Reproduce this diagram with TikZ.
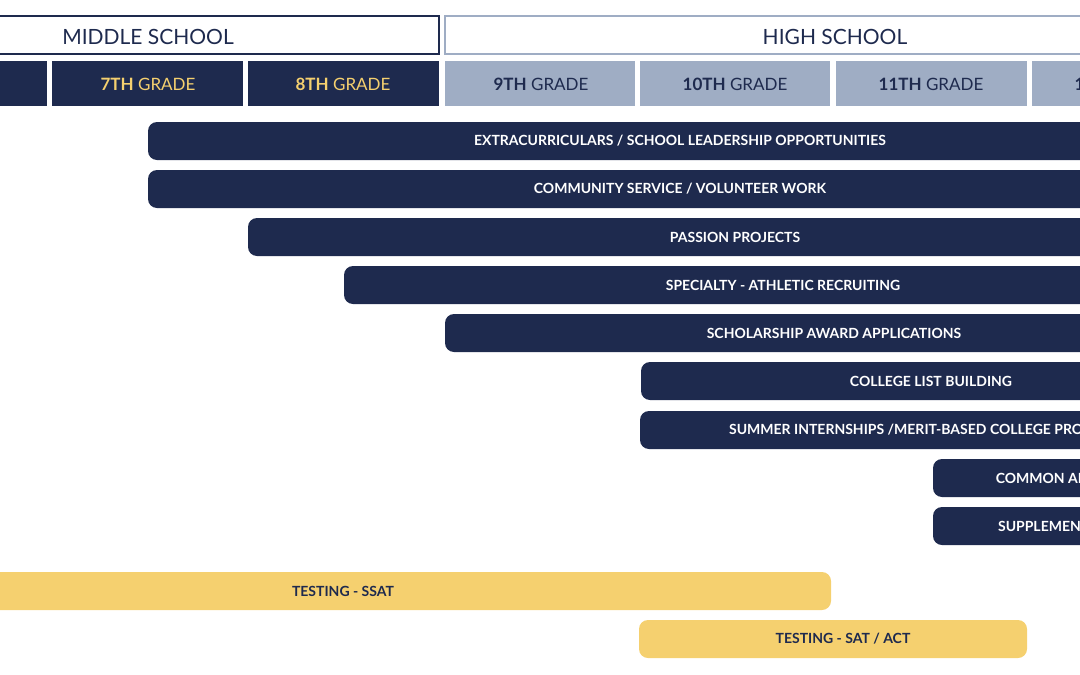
\documentclass[tikz,border=0pt]{standalone}
\usepackage{fontspec}
\setmainfont{Lato}
\definecolor{navy}{HTML}{1E2A4E}
\definecolor{gold}{HTML}{F5D06F}
\definecolor{pale}{HTML}{9FADC4}
\begin{document}
\begin{tikzpicture}[x=1pt,y=-1pt,
 bar/.style={fill=navy,rounded corners=9pt},
 ybar/.style={fill=gold,rounded corners=9pt},
 lab/.style={font=\fontsize{14}{16}\selectfont\bfseries,text=white},
 ylab/.style={font=\fontsize{14}{16}\selectfont\bfseries,text=navy},
 hd/.style={font=\fontsize{21}{24}\selectfont,text=navy},
 gr/.style={font=\fontsize{17}{20}\selectfont}]
\useasboundingbox (0,0) rectangle (1080,675);
\clip (0,0) rectangle (1080,675);
\draw[navy,line width=1.5pt] (-20,16) rectangle (439,54);
\draw[pale,line width=1.5pt] (445,16) rectangle (1100,54);
\node[hd] (ms) at (148,37) {MIDDLE SCHOOL};
\node[hd] (hs) at (835,37) {HIGH SCHOOL};
\fill[navy] (-20,61) rectangle (47,106);
\fill[navy] (52,61) rectangle (243,106);
\fill[navy] (248,61) rectangle (439,106);
\fill[pale] (445,61) rectangle (635,106);
\fill[pale] (640,61) rectangle (830,106);
\fill[pale] (836,61) rectangle (1027,106);
\fill[pale] (1032,61) rectangle (1223,106);
\node[gr,text=gold] (g7) at (148,84) {\textbf{7TH} GRADE};
\node[gr,text=gold] (g8) at (343,84) {\textbf{8TH} GRADE};
\node[gr,text=navy] (g9) at (541,84) {\textbf{9TH} GRADE};
\node[gr,text=navy] (g10) at (735,84) {\textbf{10TH} GRADE};
\node[gr,text=navy] (g11) at (931,84) {\textbf{11TH} GRADE};
\node[gr,text=navy] (g12) at (1127,84) {\textbf{12TH} GRADE};
\foreach \a/\b/\y/\t in {148/1212/141/{EXTRACURRICULARS / SCHOOL LEADERSHIP OPPORTUNITIES},
 148/1212/189/{COMMUNITY SERVICE / VOLUNTEER WORK},
 248/1222/237/{PASSION PROJECTS},
 344/1222/285/{SPECIALTY - ATHLETIC RECRUITING},
 445/1223/333/{SCHOLARSHIP AWARD APPLICATIONS},
 641/1221/381/{COLLEGE LIST BUILDING},
 640/1222/430/{SUMMER INTERNSHIPS /MERIT-BASED COLLEGE PROGRAMS},
 933/1222/478/{COMMON APPLICATION},
 933/1222/526/{SUPPLEMENTAL ESSAYS}}{
 \fill[bar] (\a,\y-19) rectangle (\b,\y+19);
 \node[lab] at ({(\a+\b)/2},\y) {\t};}
\fill[ybar] (-30,572) rectangle (831,610);
\node[ylab] (ssat) at (343,591) {TESTING - SSAT};
\fill[ybar] (639,620) rectangle (1027,658);
\node[ylab] (sat) at (843,639) {TESTING - SAT / ACT};
\end{tikzpicture}
\end{document}
